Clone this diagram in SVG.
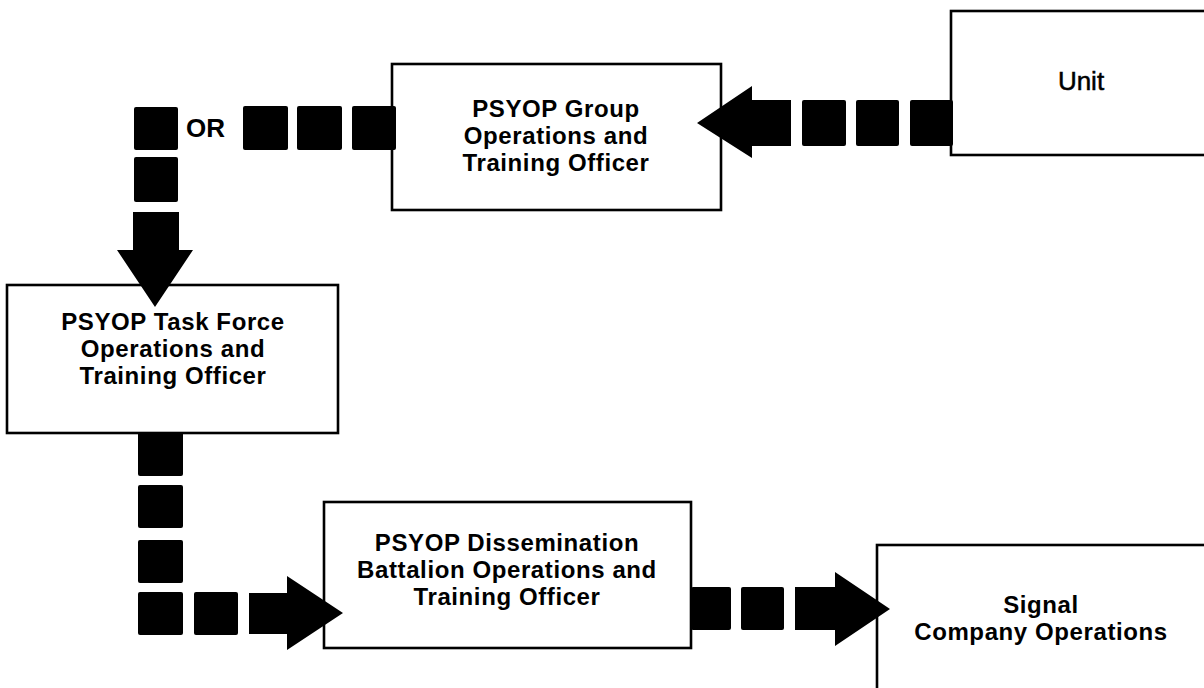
<svg xmlns="http://www.w3.org/2000/svg" width="1204" height="688" viewBox="0 0 1204 688">
<style>
.box{fill:#fff;stroke:#000;stroke-width:2.6}
.sq{fill:#000}
.lbl{font-family:"Liberation Sans",Arial,Helvetica,sans-serif;font-weight:bold;font-size:24px;letter-spacing:0.6px;fill:#000;text-anchor:middle}
.reg{font-weight:normal;font-size:26px;letter-spacing:0;stroke:#000;stroke-width:0.5}
</style>
<rect width="1204" height="688" fill="#fff"/>
<g id="unit">
<rect class="box" x="951" y="11" width="262" height="144"/>
<text class="lbl reg" x="1081" y="90">Unit</text>
</g>
<g id="group">
<rect class="box" x="392" y="64" width="329" height="146"/>
<text class="lbl" x="556" y="117">PSYOP Group</text>
<text class="lbl" x="556" y="144">Operations and</text>
<text class="lbl" x="556" y="171">Training Officer</text>
</g>
<g id="taskforce">
<rect class="box" x="7" y="285" width="331" height="148"/>
<text class="lbl" x="173" y="330">PSYOP Task Force</text>
<text class="lbl" x="173" y="357">Operations and</text>
<text class="lbl" x="173" y="384">Training Officer</text>
</g>
<g id="dissemination">
<rect class="box" x="324" y="502" width="367" height="146"/>
<text class="lbl" x="507" y="551">PSYOP Dissemination</text>
<text class="lbl" x="507" y="578">Battalion Operations and</text>
<text class="lbl" x="507" y="605">Training Officer</text>
</g>
<g id="signal">
<rect class="box" x="877" y="545" width="340" height="160"/>
<text class="lbl" x="1041" y="613">Signal</text>
<text class="lbl" x="1041" y="640">Company Operations</text>
</g>
<g id="connectors">
<!-- Unit to Group -->
<rect class="sq" x="910" y="100" width="43" height="46" rx="2"/>
<rect class="sq" x="856" y="100" width="43" height="46" rx="2"/>
<rect class="sq" x="802" y="100" width="44" height="46" rx="2"/>
<path class="sq" d="M791,100 V146 H752 V158 L697,123 L752,86 V100 Z"/>
<!-- Group to Task Force -->
<rect class="sq" x="352" y="106" width="44" height="44" rx="2"/>
<rect class="sq" x="297" y="106" width="45" height="44" rx="2"/>
<rect class="sq" x="243" y="106" width="45" height="44" rx="2"/>
<text class="lbl" x="186" y="137" style="text-anchor:start;font-size:26px;letter-spacing:0">OR</text>
<rect class="sq" x="134" y="107" width="44" height="43" rx="2"/>
<rect class="sq" x="134" y="157" width="44" height="45" rx="2"/>
<path class="sq" d="M133,212 H179 V250 H193 L155,307 L117,250 H133 Z"/>
<!-- Task Force to Dissemination -->
<rect class="sq" x="138" y="432" width="45" height="44" rx="2"/>
<rect class="sq" x="138" y="485" width="45" height="43" rx="2"/>
<rect class="sq" x="138" y="540" width="45" height="43" rx="2"/>
<rect class="sq" x="138" y="592" width="45" height="43" rx="2"/>
<rect class="sq" x="194" y="592" width="44" height="43" rx="2"/>
<path class="sq" d="M249,593 H287 V576 L343,613 L287,650 V634 H249 Z"/>
<!-- Dissemination to Signal -->
<rect class="sq" x="691" y="587" width="40" height="43" rx="2"/>
<rect class="sq" x="741" y="587" width="43" height="43" rx="2"/>
<path class="sq" d="M795,587 H835 V572 L890,609 L835,646 V630 H795 Z"/>
</g>
</svg>
